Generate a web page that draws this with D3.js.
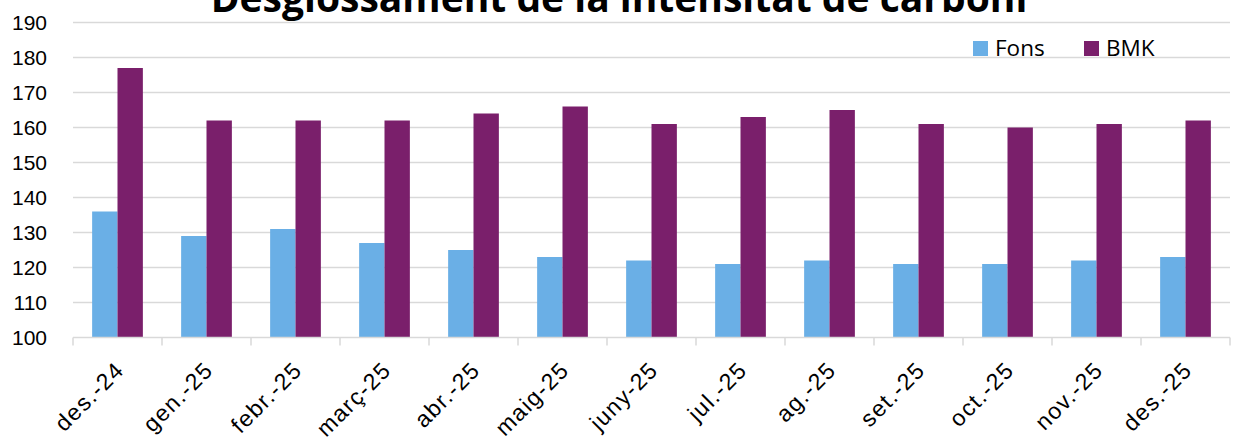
<!DOCTYPE html>
<html>
<head>
<meta charset="utf-8">
<script src="https://cdn.jsdelivr.net/npm/d3@7"></script>
<style>
  html, body { margin: 0; padding: 0; background: #fff; }
  svg { display: block; }
</style>
</head>
<body>
<div id="chart"></div>
<script>
const categories = ["des.-24","gen.-25","febr.-25","març-25","abr.-25","maig-25","juny-25","jul.-25","ag.-25","set.-25","oct.-25","nov.-25","des.-25"];
const fons = [136,129,131,127,125,123,122,121,122,121,121,122,123];
const bmk  = [177,162,162,162,164,166,161,163,165,161,160,161,162];
const seriesNames = ["Fons","BMK"];
const yTicks = [100,110,120,130,140,150,160,170,180,190];
const title = "Desglossament de la intensitat de carboni";

const W = 1233, H = 438;
const colors = {Fons: "#6AAFE6", BMK: "#7A1F6B"};
const m = {left: 73, right: 3, top: 22.5, bottom: 100.5};

const svg = d3.select("#chart").append("svg").attr("width", W).attr("height", H);

const x = d3.scaleBand().domain(categories).range([m.left, W - m.right]).paddingInner(0.43).paddingOuter(0.215);
const xb = d3.scaleBand().domain(categories).range([m.left, W - m.right]);
const xs = d3.scaleBand().domain(seriesNames).range([0, x.bandwidth()]);
const y = d3.scaleLinear().domain([100,190]).range([H - m.bottom, m.top]);

// gridlines
svg.append("g").selectAll("line").data(yTicks.slice(1)).join("line")
  .attr("x1", m.left).attr("x2", W - m.right)
  .attr("y1", d => y(d)).attr("y2", d => y(d))
  .attr("stroke", "#d9d9d9").attr("stroke-width", 1.5);

// y labels
svg.append("g").selectAll("text").data(yTicks).join("text")
  .attr("x", 47).attr("y", d => y(d)).attr("dy", "0.35em")
  .attr("text-anchor", "end")
  .attr("font-family", "Liberation Sans, Arial, sans-serif").attr("font-size", 21)
  .attr("fill", "#000").text(d => d);

// bars
const data = categories.map((c, i) => ({c, vals: [{k: "Fons", v: fons[i]}, {k: "BMK", v: bmk[i]}]}));
const g = svg.append("g").selectAll("g").data(data).join("g")
  .attr("transform", d => `translate(${x(d.c)},0)`);
g.selectAll("rect").data(d => d.vals).join("rect")
  .attr("x", d => xs(d.k)).attr("width", xs.bandwidth())
  .attr("y", d => y(d.v)).attr("height", d => y(100) - y(d.v))
  .attr("fill", d => colors[d.k]);

// x axis line & ticks
svg.append("line").attr("x1", m.left).attr("x2", W - m.right)
  .attr("y1", y(100)).attr("y2", y(100)).attr("stroke", "#d9d9d9").attr("stroke-width", 1.5);
const tickPos = categories.map(c => xb(c)).concat([W - m.right]);
svg.append("g").selectAll("line").data(tickPos).join("line")
  .attr("x1", d => d).attr("x2", d => d)
  .attr("y1", y(100)).attr("y2", y(100) + 8)
  .attr("stroke", "#d9d9d9").attr("stroke-width", 1.5);

// x labels
svg.append("g").selectAll("text").data(categories).join("text")
  .attr("transform", d => `translate(${xb(d) + xb.bandwidth()/2 + 8},${y(100) + 34}) rotate(-45)`)
  .attr("text-anchor", "end")
  .attr("letter-spacing", 1.4)
  .attr("font-family", "Liberation Sans, Arial, sans-serif").attr("font-size", 23)
  .attr("fill", "#000").text(d => d);

// title
svg.append("text").attr("x", 619).attr("y", 12)
  .attr("text-anchor", "middle")
  .attr("font-family", "Open Sans, sans-serif").attr("font-weight", "bold").attr("font-size", 39)
  .attr("fill", "#000").text(title);

// legend
const leg = svg.append("g");
const legItems = [{k: "Fons", x: 973}, {k: "BMK", x: 1084}];
legItems.forEach(it => {
  leg.append("rect").attr("x", it.x).attr("y", 41).attr("width", 15).attr("height", 15).attr("fill", colors[it.k]);
  leg.append("text").attr("x", it.x + 22).attr("y", 48.5).attr("dy", "0.35em")
    .attr("font-family", "Open Sans, sans-serif").attr("font-size", 22.5)
    .attr("fill", "#000").text(it.k);
});
</script>
</body>
</html>
